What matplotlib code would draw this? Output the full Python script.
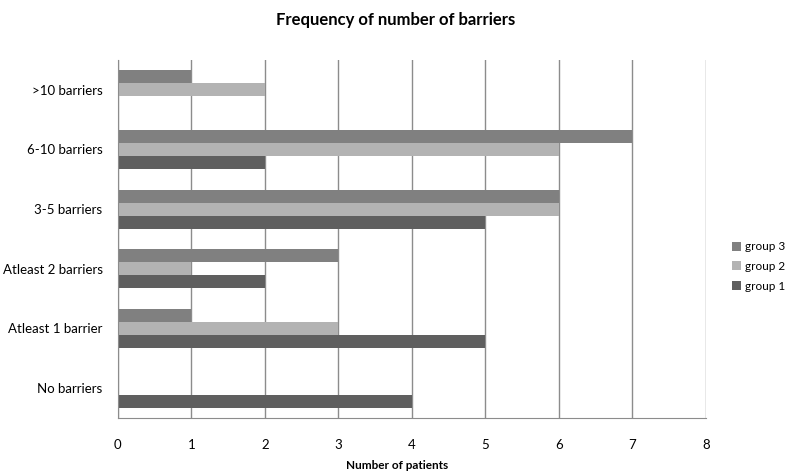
import numpy as np
import matplotlib.pyplot as plt

plt.rcParams['font.family'] = ['Lato', 'DejaVu Sans']

categories = ["No barriers", "Atleast 1 barrier", "Atleast 2 barriers",
              "3-5 barriers", "6-10 barriers", ">10 barriers"]
group1 = [4, 5, 2, 5, 2, 0]
group2 = [0, 3, 1, 6, 6, 2]
group3 = [0, 1, 3, 6, 7, 1]
xticks = [0, 1, 2, 3, 4, 5, 6, 7, 8]

fig = plt.figure(figsize=(7.91, 4.76), dpi=100)
ax = fig.add_axes([0.149, 0.122, 0.7435, 0.752])

y = np.arange(len(categories))
h = 0.218
ax.barh(y - h, group1, height=h, color="#5f5f5f", label="group 1")
ax.barh(y, group2, height=h, color="#b3b3b3", label="group 2")
ax.barh(y + h, group3, height=h, color="#808080", label="group 3")

ax.set_xlim(0, 8)
ax.set_ylim(-0.5, len(categories) - 0.5)
ax.set_xticks(xticks)
ax.set_yticks(y)
ax.set_yticklabels(categories, fontsize=9.5)
ax.tick_params(axis='x', length=0, pad=15, labelsize=9.5)
ax.tick_params(axis='y', length=0, pad=11)
ax.xaxis.grid(True, color="#8c8c8c", linewidth=1)
ax.set_axisbelow(True)
for s in ["top", "right"]:
    ax.spines[s].set_visible(False)
ax.spines["left"].set_color("#8c8c8c")
ax.spines["bottom"].set_color("#8c8c8c")

# x label placed explicitly so it stays inside the figure
fig.text(0.502, 0.023, "Number of patients", fontsize=8.5, fontweight="bold",
         ha="center", va="center")
fig.suptitle("Frequency of number of barriers", fontsize=12, fontweight="bold", y=0.975)

handles, labels = ax.get_legend_handles_labels()
fig.legend(handles[::-1], labels[::-1], loc="center left", bbox_to_anchor=(0.925, 0.44),
           frameon=False, fontsize=8.5, handlelength=0.8, handleheight=0.8,
           handletextpad=0.3, labelspacing=0.75, borderaxespad=0, borderpad=0)

fig.savefig("out.png", dpi=100)
